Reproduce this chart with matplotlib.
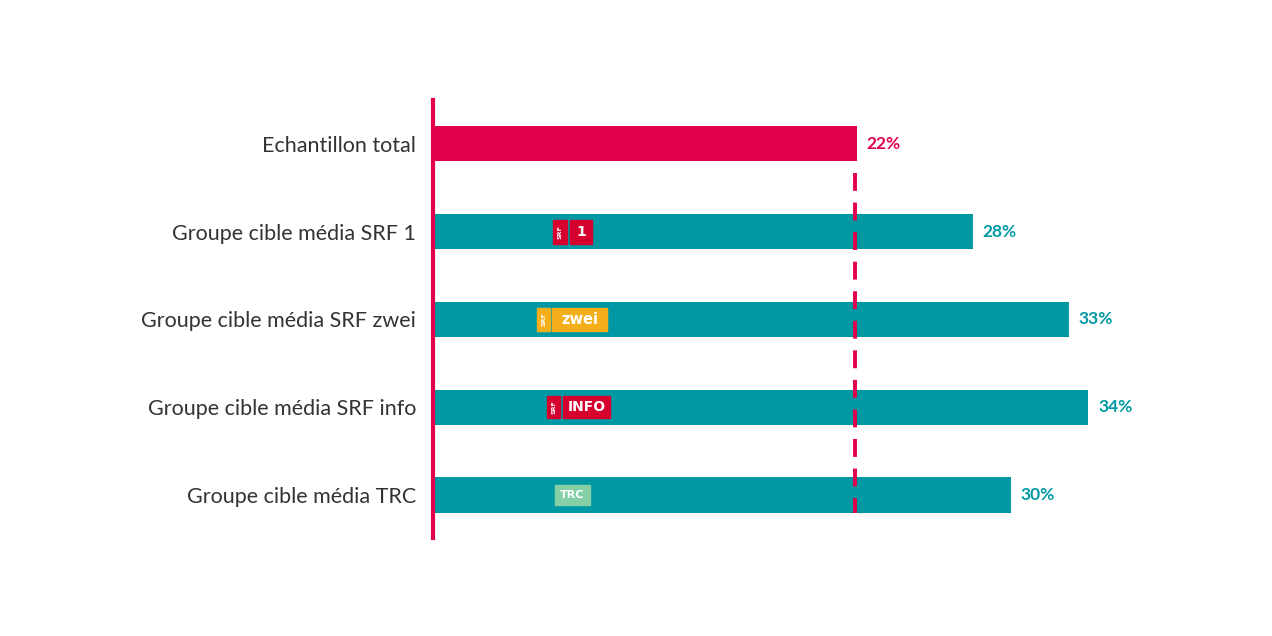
import matplotlib
matplotlib.use("Agg")
import matplotlib.pyplot as plt
from matplotlib.patches import Rectangle

categories = ["Echantillon total", "Groupe cible média SRF 1", "Groupe cible média SRF zwei",
              "Groupe cible média SRF info", "Groupe cible média TRC"]
values = [22, 28, 33, 34, 30]
labels = ["22%", "28%", "33%", "34%", "30%"]
reference_value = 22

RED = "#E2004A"
TEAL = "#0099A3"
TEXT = "#333333"

fig = plt.figure(figsize=(12.72, 6.36), dpi=100)
ax = fig.add_axes([433/1272, 98/636, 771/1272, 438/636])
ax.set_xlim(0, 40)
ax.set_ylim(4.49, -0.5)

colors = [RED] + [TEAL] * (len(values) - 1)
ax.barh(range(len(values)), values, height=0.4, color=colors, zorder=2)

for i, (v, lab, c) in enumerate(zip(values, labels, colors)):
    ax.text(v + 0.5, i, lab, color=c, fontsize=12.5, fontweight="bold",
            va="center", ha="left", family="Lato")

ax.plot([reference_value - 0.1] * 2, [0.33, 4.2], color=RED, lw=2.8,
        linestyle=(0, (4.6, 3.0)), zorder=3)

ax.set_yticks(range(len(categories)))
ax.set_yticklabels(categories, fontsize=15.5, color=TEXT, family="Lato")
ax.tick_params(axis="y", length=0, pad=12)
ax.set_xticks([])
for s in ["top", "right", "bottom"]:
    ax.spines[s].set_visible(False)
ax.spines["left"].set_color(RED)
ax.spines["left"].set_linewidth(3)

# small channel logos (decoration)
def px(xp):
    return (xp - 433) / 19.27

def box(x0, x1, yc, h, color, txt, fs, rot=0):
    ax.add_patch(Rectangle((px(x0), yc - h/2), px(x1) - px(x0), h, color=color, zorder=4))
    if txt:
        ax.text((px(x0) + px(x1)) / 2, yc, txt, color="white", fontsize=fs, fontweight="bold",
                ha="center", va="center", rotation=rot, zorder=5, family="DejaVu Sans")

h = 0.27
box(553, 567, 1, h, "#D5002E", "SRF", 4.5, 90)
box(570, 592, 1, h, "#D5002E", "1", 10)
box(537, 550, 2, h, "#F3AE1A", "SRF", 4.5, 90)
box(552, 607, 2, h, "#F3AE1A", "zwei", 10.5)
box(547, 560, 3, 0.25, "#D5002E", "SRF", 4.5, 90)
box(563, 610, 3, 0.25, "#D5002E", "INFO", 10)
box(555, 590, 4, 0.22, "#84CFA6", "TRC", 8)

fig.savefig("out.png", dpi=100, facecolor="white")
